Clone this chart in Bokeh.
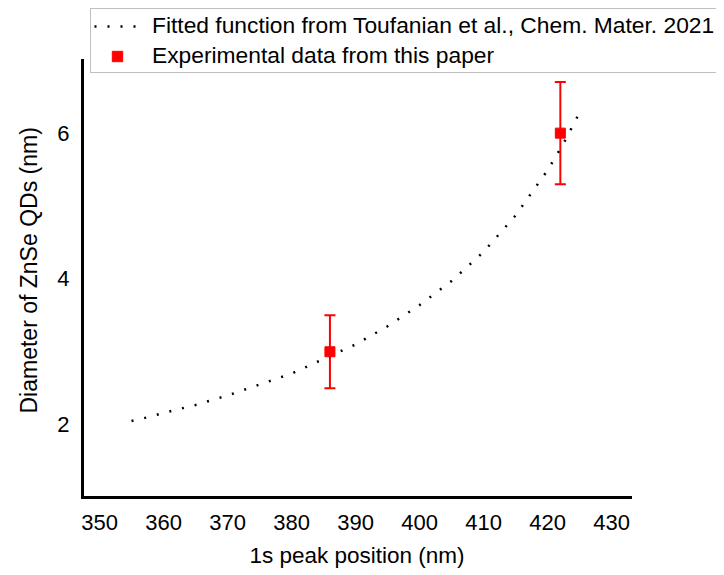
from bokeh.plotting import figure
from bokeh.models import (ColumnDataSource, Whisker, TeeHead, Legend, LegendItem,
                          FixedTicker, Range1d, Title)
from bokeh.embed import file_html
from bokeh.resources import INLINE

# Fitted curve
fit_x = [355, 357.5, 360, 365, 370, 375, 380, 385, 390, 395, 400, 405, 410, 415, 420, 422.5, 425]
fit_y = [2.05, 2.10, 2.16, 2.27, 2.40, 2.55, 2.70, 2.90, 3.10, 3.35, 3.64, 3.97, 4.37, 4.87, 5.49, 5.86, 6.28]

# Experimental data
exp_x = [386, 422]
exp_y = [3.0, 6.0]
exp_err = [0.5, 0.7]

x_ticks = [350, 360, 370, 380, 390, 400, 410, 420, 430]
y_ticks = [2, 4, 6]
x_axis_bounds = (347.34, 433.0)
y_axis_bounds = (1.0, 7.0)

FONT = "Liberation Sans"

p = figure(width=716, height=575, output_backend="svg", toolbar_location=None,
           x_range=Range1d(347.34, 446.4), y_range=Range1d(1.0, 7.82),
           min_border_left=82, min_border_right=0, min_border_top=0, min_border_bottom=76)
p.outline_line_color = None
p.xgrid.visible = False
p.ygrid.visible = False
p.background_fill_color = "white"
p.border_fill_color = "white"

fit_r = p.line(fit_x, fit_y, line_color="black", line_width=2.5, line_dash="2 11")

src = ColumnDataSource(dict(x=exp_x, y=exp_y,
                            upper=[a + b for a, b in zip(exp_y, exp_err)],
                            lower=[a - b for a, b in zip(exp_y, exp_err)]))
w = Whisker(base="x", upper="upper", lower="lower", source=src, dimension="height",
            line_color="red", line_width=2,
            upper_head=TeeHead(size=11, line_color="red", line_width=2),
            lower_head=TeeHead(size=11, line_color="red", line_width=2))
p.add_layout(w)
exp_r = p.scatter("x", "y", source=src, marker="square", size=10,
                  fill_color="red", line_color="red")

for ax in (p.xaxis[0], p.yaxis[0]):
    ax.axis_line_width = 3
    ax.axis_line_color = "black"
    ax.axis_line_cap = "square"
    ax.major_tick_line_color = None
    ax.minor_tick_line_color = None
    ax.major_tick_out = 0
    ax.major_tick_in = 0
    ax.major_label_text_font = FONT
    ax.major_label_text_font_size = "22px"
    ax.major_label_text_color = "black"

p.xaxis[0].bounds = x_axis_bounds
p.yaxis[0].bounds = y_axis_bounds
p.xaxis[0].ticker = FixedTicker(ticks=x_ticks)
p.yaxis[0].ticker = FixedTicker(ticks=y_ticks)
p.xaxis[0].major_label_standoff = 17
p.yaxis[0].major_label_standoff = 13

# Axis titles, placed as side titles so they can be centred on the drawn axis
xt = Title(text="1s peak position (nm)", align="left", offset=167,
           text_font=FONT, text_font_size="22.5px", text_font_style="normal",
           text_color="black", standoff=16)
p.add_layout(xt, "below")
yt = Title(text="Diameter of ZnSe QDs (nm)", align="left", offset=84,
           text_font=FONT, text_font_size="23px", text_font_style="normal",
           text_color="black", standoff=26)
p.add_layout(yt, "left")

legend = Legend(items=[
    LegendItem(label="Fitted function from Toufanian et al., Chem. Mater. 2021", renderers=[fit_r]),
    LegendItem(label="Experimental data from this paper", renderers=[exp_r]),
], location=(8, 424))
legend.label_text_font = FONT
legend.label_text_font_size = "22.8px"
legend.label_text_color = "black"
legend.padding = 3
legend.spacing = 3
legend.margin = 0
legend.glyph_width = 46
legend.glyph_height = 26
legend.label_height = 26
legend.label_standoff = 12
legend.border_line_color = "#808080"
legend.border_line_width = 1.5
legend.background_fill_color = "white"
legend.background_fill_alpha = 1.0
p.add_layout(legend)

open("out.html", "w").write(file_html(p, INLINE))
